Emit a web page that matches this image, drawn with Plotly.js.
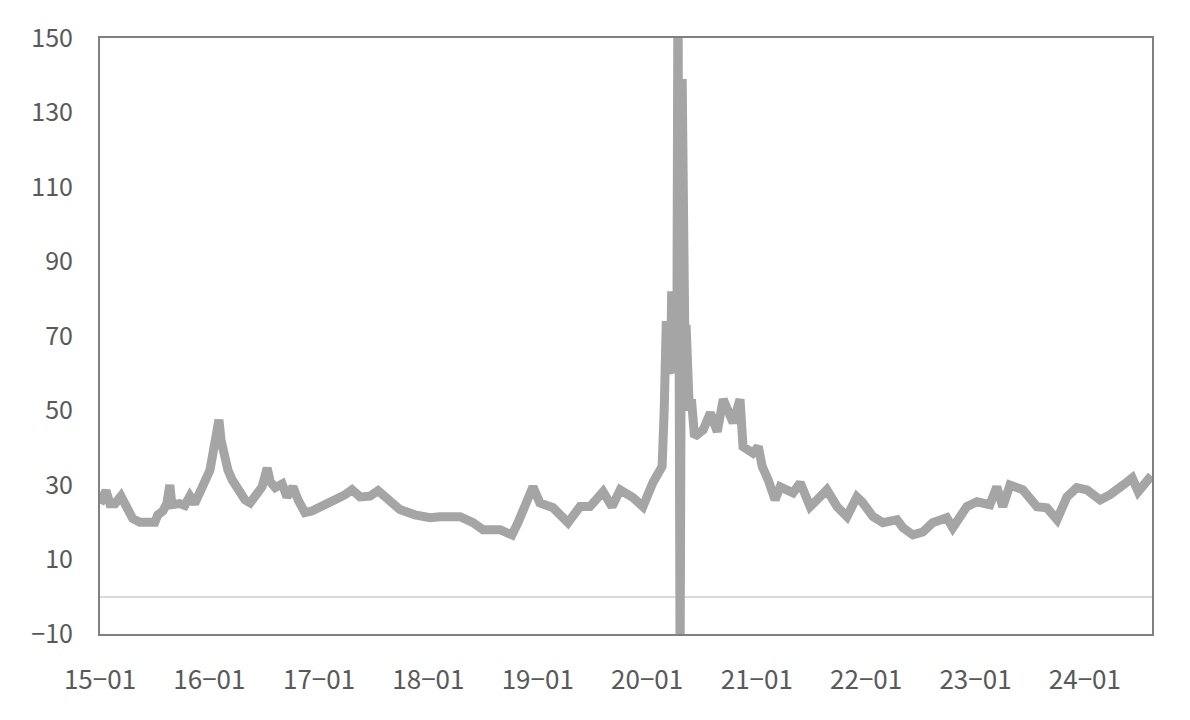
<!DOCTYPE html>
<html>
<head>
<meta charset="utf-8">
<script src="https://cdn.plot.ly/plotly-3.0.1.min.js"></script>
<style>
html,body{margin:0;padding:0;background:#fff;}
#chart{width:1190px;height:720px;}
</style>
</head>
<body>
<div id="chart"></div>
<script>
const dates = [
"2015-01-01","2015-01-10","2015-01-21","2015-02-03","2015-02-20","2015-03-12","2015-04-01","2015-04-20","2015-05-14","2015-06-16",
"2015-07-03","2015-07-13","2015-07-30","2015-08-12","2015-08-22","2015-08-29","2015-09-24","2015-10-11","2015-10-28","2015-11-13",
"2015-11-30","2015-12-17","2016-01-03","2016-01-13","2016-01-23","2016-02-02","2016-02-09","2016-02-19","2016-03-03","2016-03-17",
"2016-04-06","2016-04-29","2016-05-16","2016-06-02","2016-06-25","2016-07-12","2016-07-22","2016-08-08","2016-08-31","2016-09-16",
"2016-10-06","2016-10-23","2016-11-15","2016-12-08","2017-01-05","2017-02-07","2017-03-02","2017-03-29","2017-04-21","2017-05-18",
"2017-06-20","2017-07-17","2017-08-19","2017-09-28","2017-11-17","2018-01-06","2018-02-09","2018-03-10","2018-04-17","2018-05-30",
"2018-07-02","2018-08-28","2018-10-07","2018-10-27","2018-11-19","2018-12-16","2019-01-08","2019-02-21","2019-04-12","2019-05-22",
"2019-06-24","2019-08-07","2019-09-06","2019-10-03","2019-11-15","2019-12-18","2020-01-20","2020-02-13","2020-02-20","2020-02-27",
"2020-03-02","2020-03-05","2020-03-07","2020-03-09","2020-03-12","2020-03-16","2020-03-19","2020-03-23","2020-03-26","2020-03-30",
"2020-04-02","2020-04-06","2020-04-09","2020-04-13","2020-04-20","2020-04-27","2020-04-30","2020-05-04","2020-05-07","2020-05-10",
"2020-05-14","2020-05-21","2020-05-28","2020-06-07","2020-07-06",
"2020-07-30","2020-08-22","2020-09-11","2020-10-14","2020-11-06","2020-11-16","2020-12-19","2021-01-06","2021-01-19","2021-02-08",
"2021-03-03","2021-03-20","2021-05-02","2021-05-26","2021-06-28","2021-07-31","2021-08-23","2021-09-26","2021-10-29","2021-12-01",
"2021-12-18","2022-01-24","2022-02-26","2022-04-14","2022-05-04","2022-06-06","2022-07-09","2022-08-11","2022-09-27","2022-10-17",
"2022-12-03","2023-01-06","2023-02-18","2023-03-13","2023-04-02","2023-04-26","2023-06-08","2023-07-25","2023-08-27","2023-09-30",
"2023-11-02","2023-12-05","2024-01-08","2024-02-21","2024-03-25","2024-05-08","2024-06-07","2024-06-27","2024-07-30","2024-08-10"
];
const values = [
25,27,28.5,25,25,27,24,21,20,19.6,
20,22,23,25,30,24.7,25,24.5,27,25,
28.7,31,34,38,41,47.5,42,37,34,31.4,
28.7,26,25.2,27.4,29.5,34.6,30.9,29.3,30.3,26.8,
29.5,26,22.6,23,23.9,25.2,26.3,27.4,28.7,26.8,
27,28.5,26,23.4,22,21.2,21.5,21.5,21.5,19.9,
18,18,16.6,19.9,24.2,29.5,25.2,23.9,19.9,24.2,
24.2,28.2,24.2,28.7,26.6,24.2,30.6,33.6,35,50,
62,74,60,73,61,74,60,82,60,74,
61,72,62,170,-20,139,60,74,60,73,
58,50,53,43,44.8,
49.4,44.3,53,46.7,53,40.3,38.6,40.3,35,31.4,
26,29.5,27.9,30.6,24.2,26.8,28.7,24.2,21.5,26.8,
25.5,21.5,19.9,20.7,18.5,16.6,17.4,19.9,21.2,18.5,
24.2,25.5,24.7,29.5,24.2,30,28.7,24.2,23.9,20.7,
26.8,29.3,28.7,26,27.4,30,31.9,28.2,32.2,32.5
];
const xTickVals = ["2015-01-01","2016-01-01","2017-01-01","2018-01-01","2019-01-01","2020-01-01","2021-01-01","2022-01-01","2023-01-01","2024-01-01"];
const xTickText = ["15\u221201","16\u221201","17\u221201","18\u221201","19\u221201","20\u221201","21\u221201","22\u221201","23\u221201","24\u221201"];
const yTickVals = [-10,10,30,50,70,90,110,130,150];

const trace = {
  x: dates, y: values, type: 'scatter', mode: 'lines',
  line: {color: '#a5a5a5', width: 9, shape: 'linear'},
  hoverinfo: 'skip'
};
const font = {family: '"Noto Sans CJK KR", "Noto Sans", sans-serif', size: 25, color: '#595959'};
const xfont = {family: '"Noto Sans CJK KR", "Noto Sans", sans-serif', size: 26, color: '#595959'};
const layout = {
  width: 1190, height: 720,
  margin: {l: 100, r: 38, t: 38, b: 86},
  paper_bgcolor: '#fff', plot_bgcolor: '#fff',
  showlegend: false,
  font: font,
  xaxis: {
    type: 'date', range: ['2015-01-01', '2024-08-12'],
    tickvals: xTickVals, ticktext: xTickText,
    showgrid: false, zeroline: false, ticks: '',
    showline: true, mirror: true, linecolor: '#808080', linewidth: 2,
    ticklabelstandoff: 22, tickfont: xfont
  },
  yaxis: {
    range: [-10, 150], tickvals: yTickVals,
    showgrid: false, ticks: '',
    zeroline: true, zerolinecolor: '#d9d9d9', zerolinewidth: 2,
    showline: true, mirror: true, linecolor: '#808080', linewidth: 2,
    ticklabelstandoff: 20, tickfont: font
  }
};
Plotly.newPlot('chart', [trace], layout, {displayModeBar: false, staticPlot: true});
</script>
</body>
</html>
